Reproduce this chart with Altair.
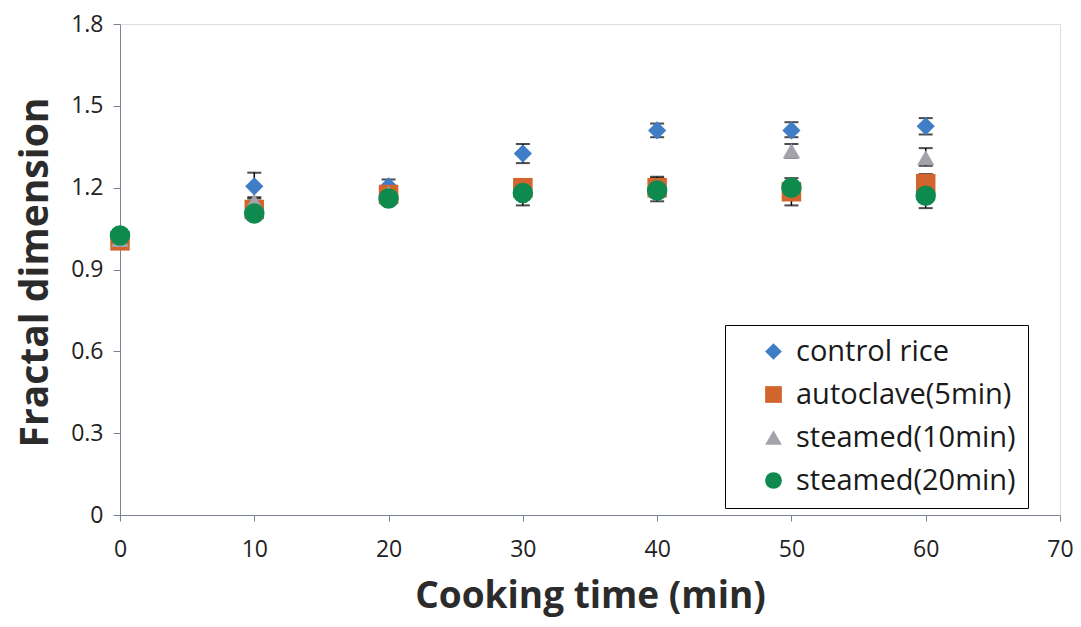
import altair as alt
import pandas as pd

times = [0, 10, 20, 30, 40, 50, 60]
series = ["control rice", "autoclave(5min)", "steamed(10min)", "steamed(20min)"]

control_y = [1.02, 1.205, 1.205, 1.325, 1.41, 1.41, 1.425]
control_lo = [1.02, 1.16, 1.19, 1.29, 1.385, 1.385, 1.395]
control_hi = [1.02, 1.255, 1.23, 1.36, 1.435, 1.44, 1.455]

autoclave_y = [1.005, 1.12, 1.175, 1.20, 1.20, 1.185, 1.215]
autoclave_lo = [1.005, 1.11, 1.165, 1.18, 1.17, 1.135, 1.19]
autoclave_hi = [1.005, 1.13, 1.185, 1.22, 1.24, 1.215, 1.25]

steamed10_y = [1.01, 1.15, 1.18, 1.19, 1.19, 1.335, 1.31]
steamed10_lo = [1.01, 1.13, 1.17, 1.175, 1.165, 1.31, 1.28]
steamed10_hi = [1.01, 1.165, 1.19, 1.205, 1.215, 1.36, 1.345]

steamed20_y = [1.025, 1.105, 1.16, 1.18, 1.19, 1.20, 1.17]
steamed20_lo = [1.025, 1.095, 1.15, 1.135, 1.15, 1.165, 1.125]
steamed20_hi = [1.025, 1.115, 1.17, 1.22, 1.235, 1.235, 1.215]

colors = ["#3F7DC6", "#D2652D", "#A3A3AB", "#0F8A4F"]
shapes = ["diamond", "square", "triangle-up", "circle"]
sizes = [330, 380, 300, 420]

rows = []
for name, ys, los, his, sz in [
    (series[0], control_y, control_lo, control_hi, sizes[0]),
    (series[1], autoclave_y, autoclave_lo, autoclave_hi, sizes[1]),
    (series[2], steamed10_y, steamed10_lo, steamed10_hi, sizes[2]),
    (series[3], steamed20_y, steamed20_lo, steamed20_hi, sizes[3]),
]:
    for i, t in enumerate(times):
        rows.append({"time": t, "series": name, "y": ys[i], "lo": los[i],
                     "hi": his[i], "order": series.index(name), "sz": sz})
df = pd.DataFrame(rows)

font = "Open Sans"

x_enc = alt.X("time:Q", scale=alt.Scale(domain=[0, 70], nice=False),
              axis=alt.Axis(values=[0, 10, 20, 30, 40, 50, 60, 70],
                            title="Cooking time (min)", grid=False, labelFlush=False,
                            tickSize=6, labelPadding=17, labelFontSize=23,
                            labelFont=font, labelColor="#222222",
                            domainColor="#7a8496", tickColor="#7a8496",
                            titleFont=font, titleFontSize=37, titleFontWeight="bold",
                            titleColor="#2b2b2b", titleX=470, titleY=81,
                            titleBaseline="middle", titleAlign="center"))
y_scale = alt.Scale(domain=[0, 1.8], nice=False)
y_axis = alt.Axis(values=[0, 0.3, 0.6, 0.9, 1.2, 1.5, 1.8], title="Fractal dimension",
                  grid=False, tickSize=7, labelPadding=10, labelFontSize=23,
                  labelFont=font, labelColor="#222222", labelFlush=False,
                  labelExpr="datum.value == 0 ? '0' : format(datum.value, '.1f')",
                  domainColor="#7a8496", tickColor="#7a8496",
                  titleFont=font, titleFontSize=39, titleFontWeight="bold",
                  titleColor="#2b2b2b", titleX=-85, titleY=248,
                  titleBaseline="middle", titleAlign="center")

base = alt.Chart(df)

err = base.mark_rule(color="black", strokeWidth=1.5).encode(
    x=x_enc, y=alt.Y("lo:Q", scale=y_scale, axis=y_axis), y2="hi:Q")
cap_lo = base.mark_tick(color="black", thickness=2, size=14, orient="horizontal").encode(
    x="time:Q", y=alt.Y("lo:Q", scale=y_scale))
cap_hi = base.mark_tick(color="black", thickness=2, size=14, orient="horizontal").encode(
    x="time:Q", y=alt.Y("hi:Q", scale=y_scale))

points = base.mark_point(filled=True, opacity=1).encode(
    x="time:Q",
    y=alt.Y("y:Q", scale=y_scale),
    color=alt.Color("series:N", scale=alt.Scale(domain=series, range=colors),
                    legend=alt.Legend(title=None, orient="none", legendX=605, legendY=301,
                                      labelFont=font, labelFontSize=29,
                                      labelColor="#1a1a1a", symbolSize=280,
                                      rowPadding=13, symbolOpacity=1, labelOffset=8,
                                      symbolOffset=22,
                                      strokeColor="black", padding=12,
                                      labelLimit=400, offset=0)),
    shape=alt.Shape("series:N", scale=alt.Scale(domain=series, range=shapes)),
    size=alt.Size("sz:Q", scale=None, legend=None),
    order=alt.Order("order:Q"),
)

chart = alt.layer(err, cap_lo, cap_hi, points).properties(
    width=940, height=491,
    autosize=alt.AutoSizeParams(type="none"),
    padding={"left": 112, "top": 16, "right": 13, "bottom": 104},
).configure_view(stroke="black", strokeWidth=1.2).configure(background="white")

chart.save("out.html", embed_options={"renderer": "svg", "actions": False})
